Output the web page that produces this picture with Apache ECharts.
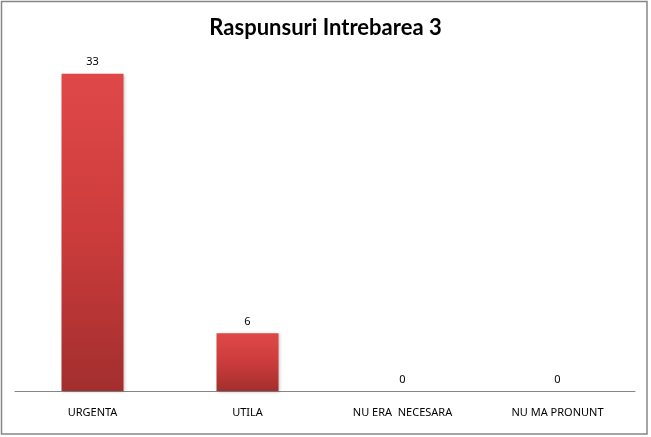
<!DOCTYPE html>
<html>
<head>
<meta charset="utf-8">
<script src="https://cdn.jsdelivr.net/npm/echarts@6/dist/echarts.min.js"></script>
<style>
html,body{margin:0;padding:0;background:#fff;}
#main{width:651px;height:437px;}
</style>
</head>
<body>
<div id="main"></div>
<script>
var titleText = "Raspunsuri Intrebarea 3";
var categories = ["URGENTA", "UTILA", "NU ERA  NECESARA", "NU MA PRONUNT"];
var values = [33, 6, 0, 0];

var chart = echarts.init(document.getElementById('main'), null, {renderer: 'canvas'});
chart.setOption({
  animation: false,
  backgroundColor: '#ffffff',
  title: {
    text: titleText,
    left: 'center',
    top: 12,
    textStyle: {fontFamily: 'Lato', fontWeight: 'bold', fontSize: 22, color: '#000'}
  },
  graphic: [{
    type: 'rect',
    shape: {x: 1.5, y: 1.5, width: 645.5, height: 432.5},
    style: {fill: 'none', stroke: '#868686', lineWidth: 1.5},
    silent: true
  }],
  grid: {left: 15, right: 16, top: 45, bottom: 46},
  xAxis: {
    type: 'category',
    data: categories,
    axisLine: {show: true, lineStyle: {color: '#868686', width: 1}},
    axisTick: {show: false},
    axisLabel: {margin: 16, fontFamily: 'Noto Sans', fontSize: 11, color: '#000'}
  },
  yAxis: {
    type: 'value',
    min: 0,
    max: 36,
    show: false,
    splitLine: {show: false}
  },
  series: [{
    type: 'bar',
    data: values,
    barWidth: '40%',
    itemStyle: {
      color: new echarts.graphic.LinearGradient(0, 0, 0, 1, [
        {offset: 0, color: '#e04848'},
        {offset: 0.5, color: '#cc3c3c'},
        {offset: 1, color: '#a32e2e'}
      ]),
      shadowColor: 'rgba(0,0,0,0.25)',
      shadowBlur: 3,
      shadowOffsetX: 1,
      shadowOffsetY: 1
    },
    label: {
      show: true,
      position: 'top',
      distance: 6,
      fontFamily: 'Noto Sans',
      fontSize: 11,
      color: '#000'
    }
  }]
});
</script>
</body>
</html>
